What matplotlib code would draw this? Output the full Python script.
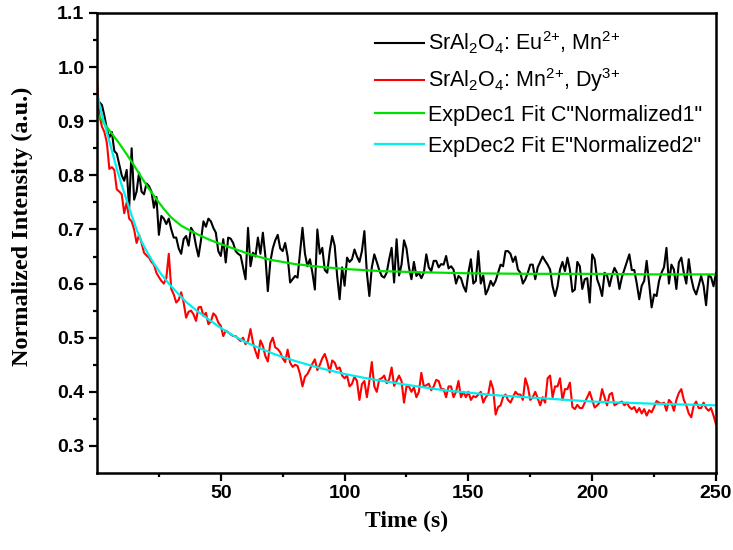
import numpy as np
import matplotlib
matplotlib.use("Agg")
import matplotlib.pyplot as plt

plt.rcParams['mathtext.default'] = 'regular'

# time axis (s), one sample per second
time_s = np.arange(0, 251, 1)

eu_mn = [
    0.925, 0.935, 0.930, 0.910, 0.885, 0.870, 0.880, 0.845, 0.840, 0.820,
    0.800, 0.790, 0.810, 0.740, 0.850, 0.755, 0.770, 0.805, 0.770, 0.765,
    0.785, 0.780, 0.770, 0.740, 0.760, 0.690, 0.725, 0.720, 0.710, 0.720,
    0.700, 0.685, 0.685, 0.665, 0.655, 0.682, 0.688, 0.670, 0.703, 0.695,
    0.670, 0.650, 0.680, 0.715, 0.705, 0.720, 0.715, 0.703, 0.694, 0.660,
    0.651, 0.682, 0.639, 0.685, 0.683, 0.675, 0.660, 0.655, 0.652, 0.630,
    0.608, 0.703, 0.632, 0.657, 0.650, 0.685, 0.655, 0.694, 0.651, 0.586,
    0.640, 0.665, 0.680, 0.690, 0.665, 0.660, 0.675, 0.650, 0.602, 0.608,
    0.614, 0.611, 0.657, 0.703, 0.655, 0.632, 0.645, 0.620, 0.589, 0.700,
    0.655, 0.666, 0.625, 0.620, 0.660, 0.688, 0.670, 0.614, 0.571, 0.630,
    0.596, 0.648, 0.640, 0.645, 0.663, 0.650, 0.640, 0.660, 0.697, 0.620,
    0.577, 0.630, 0.654, 0.640, 0.625, 0.614, 0.611, 0.620, 0.645, 0.666,
    0.602, 0.682, 0.615, 0.635, 0.680, 0.665, 0.630, 0.608, 0.640, 0.614,
    0.620, 0.610, 0.620, 0.654, 0.630, 0.623, 0.642, 0.642, 0.630, 0.636,
    0.635, 0.651, 0.628, 0.632, 0.626, 0.600, 0.614, 0.610, 0.595, 0.585,
    0.620, 0.645, 0.600, 0.605, 0.660, 0.600, 0.615, 0.580, 0.590, 0.605,
    0.596, 0.605, 0.620, 0.635, 0.632, 0.660, 0.660, 0.655, 0.640, 0.650,
    0.626, 0.620, 0.600, 0.608, 0.620, 0.635, 0.635, 0.608, 0.630, 0.640,
    0.650, 0.642, 0.635, 0.626, 0.595, 0.577, 0.595, 0.626, 0.640, 0.623,
    0.648, 0.626, 0.585, 0.589, 0.640, 0.632, 0.590, 0.608, 0.610, 0.565,
    0.654, 0.645, 0.608, 0.595, 0.577, 0.620, 0.615, 0.595, 0.615, 0.629,
    0.620, 0.590, 0.612, 0.626, 0.640, 0.654, 0.625, 0.625, 0.600, 0.571,
    0.596, 0.605, 0.642, 0.600, 0.556, 0.580, 0.577, 0.605, 0.620, 0.630,
    0.666, 0.600, 0.635, 0.626, 0.590, 0.639, 0.648, 0.620, 0.600, 0.645,
    0.610, 0.590, 0.580, 0.596, 0.614, 0.596, 0.560, 0.615, 0.612, 0.595,
    0.620,
]

mn_dy = [
    0.975, 0.910, 0.890, 0.880, 0.860, 0.812, 0.815, 0.810, 0.774, 0.770,
    0.765, 0.730, 0.750, 0.720, 0.715, 0.700, 0.675, 0.690, 0.675, 0.657,
    0.652, 0.648, 0.640, 0.635, 0.620, 0.612, 0.605, 0.600, 0.610, 0.655,
    0.590, 0.580, 0.565, 0.570, 0.584, 0.565, 0.537, 0.548, 0.550, 0.543,
    0.531, 0.556, 0.557, 0.540, 0.546, 0.525, 0.530, 0.545, 0.540, 0.528,
    0.522, 0.503, 0.513, 0.510, 0.506, 0.503, 0.503, 0.498, 0.494, 0.500,
    0.488, 0.494, 0.516, 0.491, 0.475, 0.462, 0.495, 0.485, 0.466, 0.456,
    0.490, 0.500, 0.482, 0.479, 0.473, 0.462, 0.455, 0.478, 0.454, 0.446,
    0.450, 0.448, 0.433, 0.410, 0.428, 0.433, 0.442, 0.452, 0.460, 0.440,
    0.450, 0.462, 0.470, 0.456, 0.436, 0.458, 0.454, 0.442, 0.445, 0.430,
    0.425, 0.430, 0.410, 0.415, 0.428, 0.420, 0.385, 0.414, 0.420, 0.390,
    0.420, 0.455, 0.410, 0.400, 0.423, 0.425, 0.430, 0.416, 0.423, 0.445,
    0.411, 0.420, 0.430, 0.420, 0.380, 0.410, 0.410, 0.400, 0.408, 0.390,
    0.400, 0.435, 0.410, 0.412, 0.415, 0.403, 0.410, 0.422, 0.420, 0.405,
    0.405, 0.390, 0.410, 0.410, 0.390, 0.400, 0.420, 0.390, 0.400, 0.390,
    0.400, 0.385, 0.392, 0.390, 0.395, 0.400, 0.380, 0.390, 0.395, 0.420,
    0.405, 0.358, 0.372, 0.375, 0.390, 0.395, 0.385, 0.380, 0.390, 0.400,
    0.395, 0.395, 0.385, 0.425, 0.410, 0.385, 0.390, 0.400, 0.388, 0.375,
    0.390, 0.380, 0.425, 0.430, 0.390, 0.410, 0.410, 0.425, 0.385, 0.405,
    0.405, 0.417, 0.372, 0.368, 0.376, 0.370, 0.370, 0.380, 0.390, 0.400,
    0.385, 0.371, 0.375, 0.380, 0.405, 0.390, 0.375, 0.395, 0.398, 0.375,
    0.378, 0.380, 0.382, 0.375, 0.380, 0.372, 0.368, 0.372, 0.362, 0.370,
    0.360, 0.368, 0.356, 0.366, 0.362, 0.372, 0.383, 0.380, 0.378, 0.380,
    0.365, 0.385, 0.380, 0.365, 0.385, 0.398, 0.405, 0.385, 0.375, 0.360,
    0.353, 0.375, 0.382, 0.370, 0.370, 0.380, 0.370, 0.365, 0.370, 0.356,
    0.340,
]

# fitted curves
fit1_t = [0, 3, 6, 9, 12, 15, 18, 21, 24, 27, 30, 34, 38, 42, 46, 50, 55, 60,
          65, 70, 80, 90, 100, 115, 130, 150, 175, 200, 225, 250]
fit1_y = [0.915, 0.895, 0.877, 0.859, 0.839, 0.818, 0.796, 0.775, 0.756, 0.738,
          0.722, 0.707, 0.697, 0.688, 0.680, 0.673, 0.665, 0.657, 0.650, 0.644,
          0.636, 0.631, 0.627, 0.623, 0.621, 0.619, 0.618, 0.618, 0.617, 0.617]

fit2_t = [0, 2, 4, 6, 8, 10, 12, 14, 16, 18, 20, 23, 26, 29, 32, 36, 40, 45, 50,
          55, 60, 66, 72, 80, 90, 100, 110, 125, 140, 160, 180, 200, 225, 250]
fit2_y = [0.950, 0.912, 0.880, 0.846, 0.812, 0.782, 0.754, 0.726, 0.700, 0.678,
          0.660, 0.637, 0.617, 0.600, 0.585, 0.566, 0.551, 0.534, 0.518, 0.504,
          0.492, 0.480, 0.469, 0.457, 0.444, 0.433, 0.424, 0.413, 0.403, 0.394,
          0.388, 0.382, 0.378, 0.375]

labels = [r"SrAl$_2$O$_4$: Eu$^{2{+}}$, Mn$^{2{+}}$",
          r"SrAl$_2$O$_4$: Mn$^{2{+}}$, Dy$^{3{+}}$",
          'ExpDec1 Fit C"Normalized1"',
          'ExpDec2 Fit E"Normalized2"']

fig = plt.figure(figsize=(7.33, 5.5), dpi=100)
ax = fig.add_axes([0.1323, 0.14, 0.8445, 0.8364])

ax.plot(time_s, eu_mn, color='black', lw=1.5, label=labels[0])
ax.plot(time_s, mn_dy, color='#ff0000', lw=1.5, label=labels[1])
ax.plot(fit1_t, fit1_y, color='#00e000', lw=1.6, label=labels[2])
ax.plot(fit2_t, fit2_y, color='#00eeee', lw=1.6, label=labels[3])

ax.set_xlim(0, 250)
ax.set_ylim(0.25, 1.1)
ax.set_xticks([50, 100, 150, 200, 250])
ax.set_xticks([25, 75, 125, 175, 225], minor=True)
ax.set_yticks(np.round(np.arange(0.3, 1.11, 0.1), 2))
ax.set_yticks(np.round(np.arange(0.35, 1.1, 0.1), 2), minor=True)
ax.set_yticklabels(['%.1f' % v for v in np.arange(0.3, 1.11, 0.1)])

for s in ax.spines.values():
    s.set_linewidth(1.8)
ax.tick_params(which='major', direction='out', length=6, width=1.6, pad=3)
ax.tick_params(which='minor', direction='out', length=3, width=1.6)
for lab in ax.get_xticklabels() + ax.get_yticklabels():
    lab.set_fontfamily('Liberation Sans')
    lab.set_fontweight('bold')
    lab.set_fontsize(14)

ax.set_xlabel('Time (s)', family='Liberation Serif', weight='bold', fontsize=17, labelpad=6)
ax.set_ylabel('Normalized Intensity (a.u.)', family='Liberation Serif', weight='bold',
              fontsize=17.5)
ax.yaxis.set_label_coords(-0.104, 0.537)

ax.legend(loc='upper left', bbox_to_anchor=(0.449, 0.964), frameon=False,
          prop={'family': 'Liberation Sans', 'size': 15.5},
          handlelength=2.3, handletextpad=0.15, labelspacing=0.48,
          borderpad=0, borderaxespad=0)

fig.savefig('out.png', dpi=100)
